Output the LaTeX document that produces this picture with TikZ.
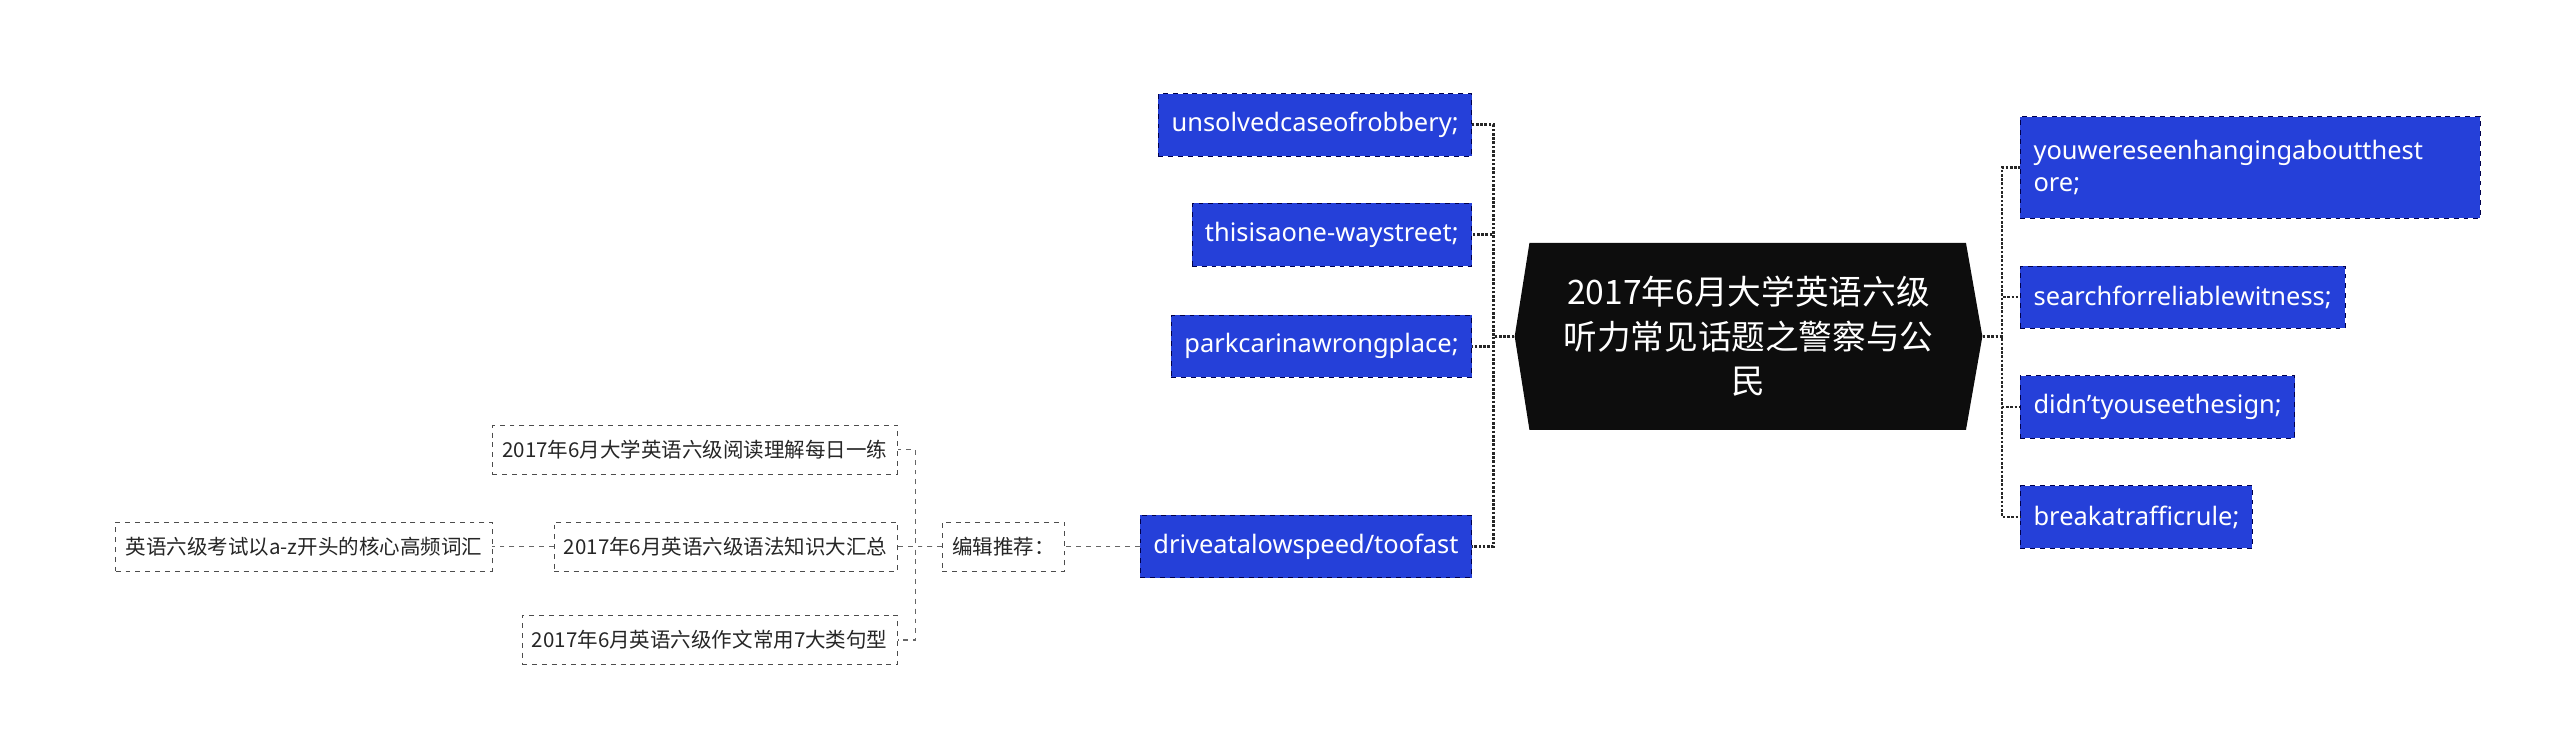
\documentclass[tikz,border=0pt]{standalone}
\usepackage{fontspec}
\setmainfont{Noto Sans}
\newfontfamily\cjk{Noto Sans CJK SC}
\begin{document}
\begin{tikzpicture}[x=1pt,y=-1pt,
  blue/.style={draw=black!70!blue,dashed,fill={rgb,255:red,37;green,64;blue,217},text=white,font=\fontsize{15.5}{20}\selectfont,inner xsep=8pt,inner ysep=0pt,minimum height=38pt,anchor=east},
  bluer/.style={blue,anchor=west},
  gray/.style={draw=black!70,dashed,fill=white,text=black!85,font=\cjk\fontsize{12.5}{15}\selectfont,inner xsep=6pt,inner ysep=0pt,minimum height=30pt,anchor=east},
  conn/.style={black!85,densely dotted,line width=1.6pt},
  gconn/.style={black!60,dashed,line width=0.8pt}]
\useasboundingbox (0,0) rectangle (1560,460);
\fill[black!95] (923,205) -- (932,148) -- (1198,148) -- (1208,205) -- (1198,262) -- (932,262) -- cycle;
\node[minimum width=285pt,minimum height=114pt,text=white,align=center,font=\cjk\fontsize{20.5}{27}\selectfont] (c) at (1065.5,205) {2017年6月大学英语六级\\听力常见话题之警察与公\\民};
\node[blue] (l1) at (897,76) {unsolvedcaseofrobbery;};
\node[blue] (l2) at (897,143) {thisisaone-waystreet;};
\node[blue] (l3) at (897,211) {parkcarinawrongplace;};
\node[blue] (l4) at (897,333) {driveatalowspeed/toofast};
\node[bluer,align=left,minimum width=280pt,minimum height=62pt,text width=264pt] (r1) at (1231,102) {youwereseenhangingaboutthest\\ore;};
\node[bluer] (r2) at (1231,181) {searchforreliablewitness;};
\node[bluer] (r3) at (1231,248) {didn't{}youseethesign;};
\node[bluer] (r4) at (1231,315) {breakatrafficrule;};
\foreach \n in {l1,l2,l3,l4} \draw[conn] (c.west) -- (910,205) |- (\n.east);
\foreach \n in {r1,r2,r3,r4} \draw[conn] (c.east) -- (1220,205) |- (\n.west);
\node[gray] (g0) at (649,333) {编辑推荐：};
\draw[gconn] (l4.west) -- (g0.east);
\node[gray] (g1) at (547,274) {2017年6月大学英语六级阅读理解每日一练};
\node[gray] (g2) at (547,333) {2017年6月英语六级语法知识大汇总};
\node[gray] (g3) at (547,390) {2017年6月英语六级作文常用7大类句型};
\node[gray] (g4) at (300,333) {英语六级考试以a-z开头的核心高频词汇};
\foreach \n in {g1,g2,g3} \draw[gconn] (g0.west) -- (558,333) |- (\n.east);
\draw[gconn] (g2.west) -- (g4.east);
\end{tikzpicture}
\end{document}
